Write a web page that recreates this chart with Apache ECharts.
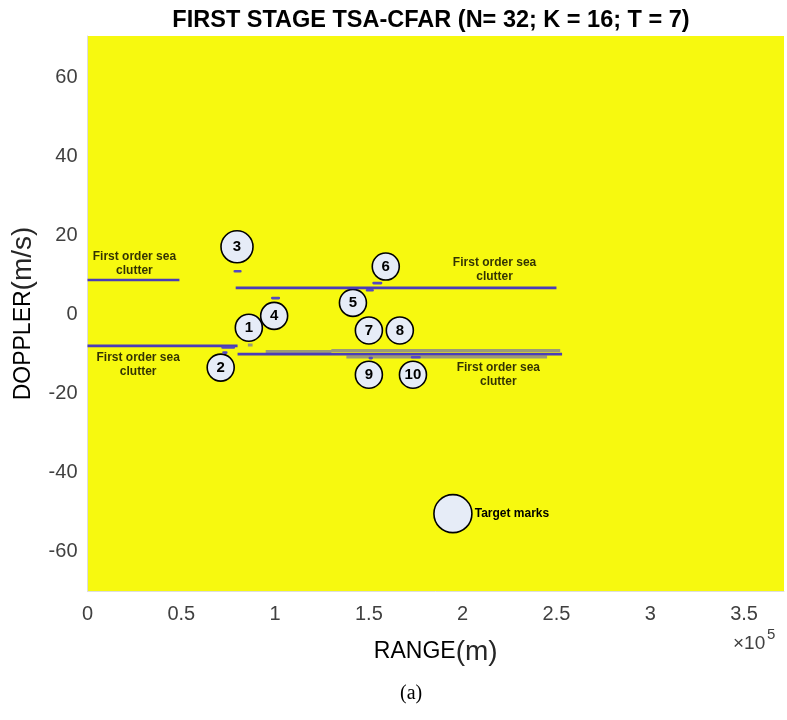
<!DOCTYPE html>
<html>
<head>
<meta charset="utf-8">
<script src="https://cdn.jsdelivr.net/npm/echarts@6/dist/echarts.min.js"></script>
<style>
  html, body { margin: 0; padding: 0; background: #fff; }
  #chart { width: 787px; height: 720px; }
</style>
</head>
<body>
<div id="chart"></div>
<script>
// range values in units of 1e5 m, doppler in m/s
const xTicks = [0, 0.5, 1, 1.5, 2, 2.5, 3, 3.5];
const yTicks = [-60, -40, -20, 0, 20, 40, 60];

// detected clutter ridges: [xStart, xEnd, doppler]
const clutterLines = [
  [0, 0.49, 8.8],
  [0, 0.8, -7.9],
  [0.79, 2.5, 6.8],
  [0.8, 2.53, -10.0]
];
// small detections near targets: [xStart, xEnd, doppler]
const smallHits = [
  [0.785, 0.815, 11.0],
  [0.985, 1.02, 4.2],
  [0.72, 0.78, -8.3],
  [0.725, 0.74, -9.6],
  [1.525, 1.565, 8.0],
  [1.49, 1.52, 6.2],
  [1.505, 1.515, -11.0],
  [1.73, 1.77, -10.8]
];
// grey residue band around lower ridge
const greyBand = [
  [1.3, 2.52, -9.1],
  [1.38, 2.45, -10.7],
  [0.95, 1.3, -9.3],
  [0.855, 0.88, -7.7]
];
// numbered target marks: [x, y, label]
const targetMarks = [
  [0.86, -3.3, '1'],
  [0.71, -13.4, '2'],
  [0.797, 17.2, '3'],
  [0.995, -0.3, '4'],
  [1.415, 3.0, '5'],
  [1.59, 12.2, '6'],
  [1.50, -4.0, '7'],
  [1.665, -4.0, '8'],
  [1.50, -15.2, '9'],
  [1.735, -15.2, '10']
];
const legendMark = [1.948, -50.4];
// annotation texts: [x, y, text]
const notes = [
  [0.25, 13.0, 'First order sea\nclutter'],
  [0.27, -12.7, 'First order sea\nclutter'],
  [2.17, 11.5, 'First order sea\nclutter'],
  [2.19, -15.2, 'First order sea\nclutter']
];

function segData(segs) {
  const out = [];
  segs.forEach(s => {
    out.push([s[0], s[2]]);
    out.push([s[1], s[2]]);
    out.push(['-', '-']);
  });
  return out;
}

const chart = echarts.init(document.getElementById('chart'));
const font = 'Liberation Sans, Arial, sans-serif';

const option = {
  backgroundColor: '#fff',
  animation: false,
  title: {
    text: 'FIRST STAGE TSA-CFAR (N= 32; K = 16; T = 7)',
    left: 426, top: 4, textAlign: 'center',
    textStyle: { fontFamily: font, fontSize: 23.5, fontWeight: 'bold', color: '#000' }
  },
  grid: {
    left: 87.5, right: 3, top: 36, bottom: 129,
    containLabel: false, outerBoundsMode: 'none',
    backgroundColor: '#f7f90f', show: true, borderWidth: 0
  },
  xAxis: {
    type: 'value', min: 0, max: 3.713, interval: 0.5,
    name: 'RANGE{u|(m)}', nameLocation: 'middle', nameGap: 47,
    nameTextStyle: { fontFamily: font, fontSize: 23, color: '#000', rich: { u: { fontFamily: font, fontSize: 28, color: '#262626' } } },
    axisLine: { show: true, onZero: false, lineStyle: { color: '#ddd', width: 1 } },
    axisTick: { show: false },
    splitLine: { show: false },
    axisLabel: {
      fontFamily: font, fontSize: 20, color: '#404040', margin: 13,
      customValues: xTicks,
      formatter: v => String(v)
    }
  },
  yAxis: {
    type: 'value', min: -70, max: 70.6,
    name: 'DOPPLER{u|(m/s)}', nameLocation: 'middle', nameGap: 46,
    nameTextStyle: { fontFamily: font, fontSize: 23, color: '#000', rich: { u: { fontFamily: font, fontSize: 28, color: '#262626' } } },
    axisLine: { show: true, onZero: false, lineStyle: { color: '#ddd', width: 1 } },
    axisTick: { show: false },
    splitLine: { show: false },
    axisLabel: {
      fontFamily: font, fontSize: 20, color: '#404040', margin: 10,
      customValues: yTicks
    }
  },
  graphic: [
    { type: 'text', left: 733, top: 634, style: { text: '×10', font: '19px ' + font, fill: '#404040' } },
    { type: 'text', left: 767, top: 627, style: { text: '5', font: '15px ' + font, fill: '#404040' } },
    { type: 'text', left: 400, top: 684, style: { text: '(a)', font: '20px "Liberation Serif", "Times New Roman", serif', fill: '#000', textAlign: 'center' } }
  ],
  series: [
    {
      type: 'line', data: segData(greyBand), symbol: 'none', connectNulls: false,
      lineStyle: { color: '#9c9a78', width: 3 }, silent: true
    },
    {
      type: 'line', data: segData(clutterLines), symbol: 'none', connectNulls: false,
      lineStyle: { color: '#4a3db8', width: 2.6 }, silent: true
    },
    {
      type: 'line', data: segData(smallHits), symbol: 'none', connectNulls: false,
      lineStyle: { color: '#5448c0', width: 2.6, cap: 'round' }, silent: true
    },
    {
      type: 'scatter', silent: true,
      data: targetMarks.map(d => ({ value: [d[0], d[1]], name: d[2], symbolSize: d[2] === '3' ? 32 : 27 })),
      itemStyle: { color: '#e6ecf7', borderColor: '#000', borderWidth: 1.6, opacity: 1 },
      label: {
        show: true, position: 'inside', formatter: p => p.name,
        fontFamily: font, fontSize: 15, fontWeight: 'bold', color: '#000'
      }
    },
    {
      type: 'scatter', silent: true, symbolSize: 38,
      data: [legendMark],
      itemStyle: { color: '#e6ecf7', borderColor: '#000', borderWidth: 1.6, opacity: 1 },
      label: {
        show: true, position: 'right', distance: 2, formatter: 'Target marks',
        fontFamily: font, fontSize: 12, fontWeight: 'bold', color: '#000'
      }
    },
    {
      type: 'scatter', silent: true, symbolSize: 0,
      data: notes.map(n => ({ value: [n[0], n[1]], name: n[2] })),
      label: {
        show: true, position: 'inside', formatter: p => p.name, align: 'center',
        fontFamily: font, fontSize: 12, fontWeight: 'bold', color: '#000', lineHeight: 14
      }
    }
  ]
};

chart.setOption(option);
</script>
</body>
</html>
